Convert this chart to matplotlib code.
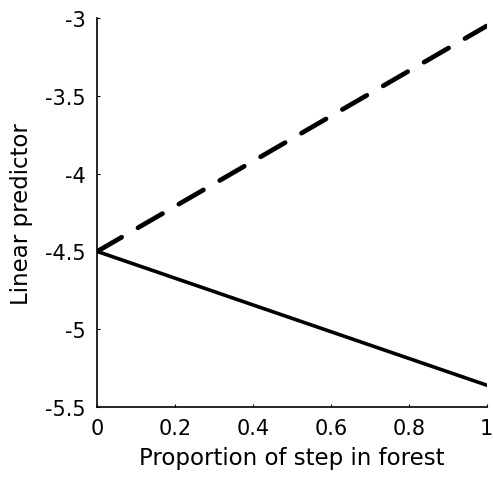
import numpy as np
import matplotlib
matplotlib.use("Agg")
import matplotlib.pyplot as plt

# proportion of step in forest (line endpoints)
prop_forest = [0.0, 1.0]
# linear predictor for the two fitted lines
pred_dashed = [-4.5, -3.05]
pred_solid = [-4.5, -5.36]

x_ticks = [0, 0.2, 0.4, 0.6, 0.8, 1]
x_labels = ["0", "0.2", "0.4", "0.6", "0.8", "1"]
y_ticks = [-5.5, -5, -4.5, -4, -3.5, -3]
y_labels = ["-5.5", "-5", "-4.5", "-4", "-3.5", "-3"]

plt.rcParams['font.family'] = ['DejaVu Sans']

fig = plt.figure(figsize=(4.93, 4.81), dpi=100)
ax = fig.add_axes([0.197, 0.152, 0.790, 0.808])

ax.plot(prop_forest, pred_dashed, color='black', linewidth=3.4,
        linestyle=(0, (6, 4)), solid_capstyle='round', dash_capstyle='round')
ax.plot(prop_forest, pred_solid, color='black', linewidth=2.6)

ax.set_xlim(0, 1)
ax.set_ylim(-5.5, -3)
ax.set_xticks(x_ticks)
ax.set_xticklabels(x_labels)
ax.set_yticks(y_ticks)
ax.set_yticklabels(y_labels)

for side in ('top', 'right'):
    ax.spines[side].set_visible(False)
for side in ('left', 'bottom'):
    ax.spines[side].set_linewidth(1.2)

ax.tick_params(direction='in', length=2, width=0.8, labelsize=15, pad=8)
ax.set_xlabel('Proportion of step in forest', fontsize=16.5, labelpad=6)
ax.set_ylabel('Linear predictor', fontsize=16.5, labelpad=9)

fig.savefig('out.png', dpi=100)
